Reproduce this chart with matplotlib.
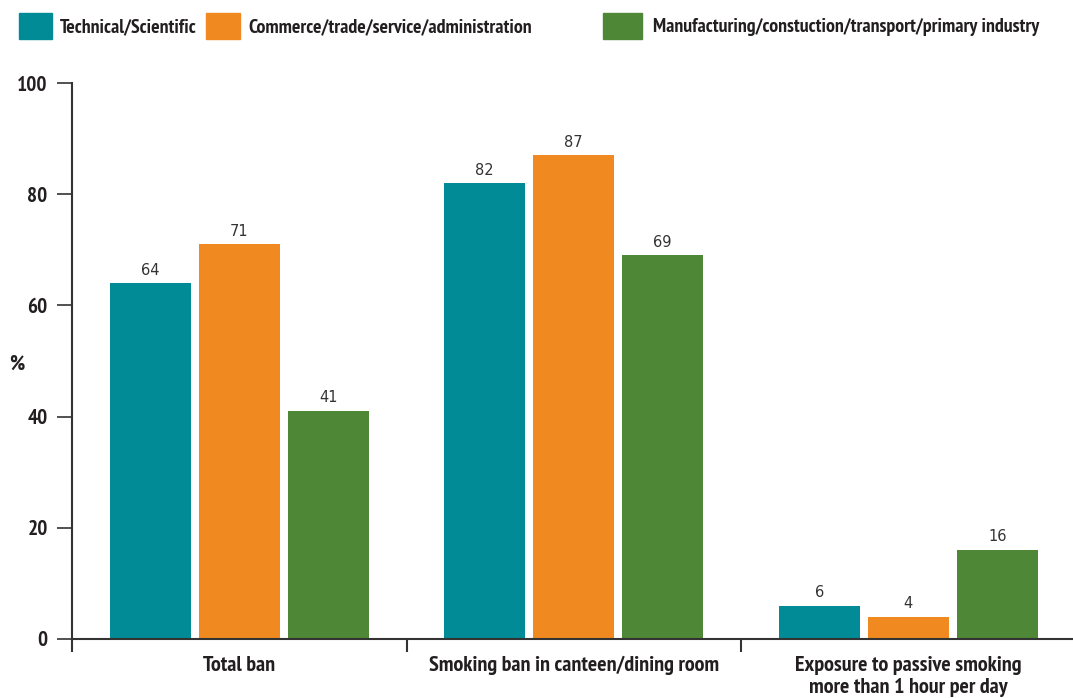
import matplotlib
matplotlib.use("Agg")
import matplotlib.pyplot as plt
from matplotlib.patches import Rectangle
from matplotlib import font_manager as fm
import numpy as np

categories = ["Total ban", "Smoking ban in canteen/dining room",
              "Exposure to passive smoking\nmore than 1 hour per day"]
series_names = ["Technical/Scientific", "Commerce/trade/service/administration",
                "Manufacturing/constuction/transport/primary industry"]
technical = [64, 82, 6]
commerce = [71, 87, 4]
manufacturing = [41, 69, 16]
yticks = [0, 20, 40, 60, 80, 100]

colors = ["#008B96", "#F0891F", "#4E8736"]


def is_bold(f):
    w = f.weight
    if isinstance(w, str):
        return "bold" in w.lower()
    return w >= 600


def pick_condensed():
    best = None
    for f in fm.fontManager.ttflist:
        name = f.name
        stretch = str(f.stretch)
        fname = f.fname.lower()
        if not is_bold(f) or f.style != "normal":
            continue
        score = None
        if "Narrow" in name:
            score = 0
        elif "condensed" in fname and "extra" not in fname and "semi" not in fname and "ultra" not in fname:
            score = 1 if "extrabold" not in fname and "semibold" not in fname else 3
        elif stretch in ("condensed",) or "Condensed" in name:
            score = 2
        if score is not None and (best is None or score < best[0]):
            best = (score, f.fname)
    return best[1] if best else None


cond_path = pick_condensed()
if cond_path:
    BOLD = fm.FontProperties(fname=cond_path)
else:
    BOLD = fm.FontProperties(family="Roboto", weight="bold")

fig = plt.figure(figsize=(10.73, 6.98), dpi=100)
W, H = 1073, 698

# fit font size so that legend text widths match the reference on average
renderer = fig.canvas.get_renderer()
tot = 0.0
for nm in series_names:
    probe = fig.text(0, 0, nm, fontproperties=BOLD, fontsize=13.5)
    tot += probe.get_window_extent(renderer).width
    probe.remove()
FS = min(15.0, 13.5 * 809.0 / tot)
FS_CAT = FS * 1.11
FS_TICK = FS * 1.07

ax = fig.add_axes([72 / W, (H - 639) / H, 1003.5 / W, (639 - 83) / H])

x = np.arange(len(categories))
bw = 0.242
pitch = 0.266
for i, (vals, c) in enumerate(zip([technical, commerce, manufacturing], colors)):
    pos = x + (i - 1) * pitch
    ax.bar(pos, vals, width=bw, color=c, zorder=2)
    for p, v in zip(pos, vals):
        ax.annotate(str(v), (p, v), xytext=(0, 4), textcoords="offset points",
                    ha="center", va="bottom", fontsize=10.5, color="#333333",
                    family="DejaVu Sans")

ax.set_xlim(-0.5, 2.5)
ax.set_ylim(0, 100)
ax.set_yticks(yticks)
ax.set_yticklabels([str(t) for t in yticks])
for lab in ax.get_yticklabels():
    lab.set_fontproperties(BOLD)
    lab.set_fontsize(FS_TICK)
    lab.set_color("#231f20")
ax.tick_params(axis="y", length=11, width=1.2, color="#333333", pad=6.5)
ax.set_xticks([-0.5, 0.5, 1.5])
ax.set_xticklabels([])
ax.tick_params(axis="x", length=9.5, width=1.5, color="#333333")
for i, lab in enumerate(categories):
    ax.text(i, -3.0, lab, ha="center", va="top", fontproperties=BOLD,
            fontsize=FS_CAT, color="#231f20", linespacing=1.25)

for s in ["top", "right"]:
    ax.spines[s].set_visible(False)
for s in ["left", "bottom"]:
    ax.spines[s].set_linewidth(1.5)
    ax.spines[s].set_color("#333333")

fig.text(17 / W, 1 - 364 / H, "%", ha="center", va="center", fontproperties=BOLD,
         fontsize=FS_TICK, color="#231f20")

# legend
legend_items = [(19, 33, 60), (206, 34, 248), (603, 39, 653)]
for (px, pw, tx), name, c in zip(legend_items, series_names, colors):
    fig.patches.append(Rectangle((px / W, 1 - 39 / H), pw / W, 26 / H,
                                 transform=fig.transFigure, color=c))
    fig.text(tx / W, 1 - 27 / H, name, ha="left", va="center", fontproperties=BOLD,
             fontsize=FS, color="#231f20")

fig.savefig("out.png", dpi=100)
